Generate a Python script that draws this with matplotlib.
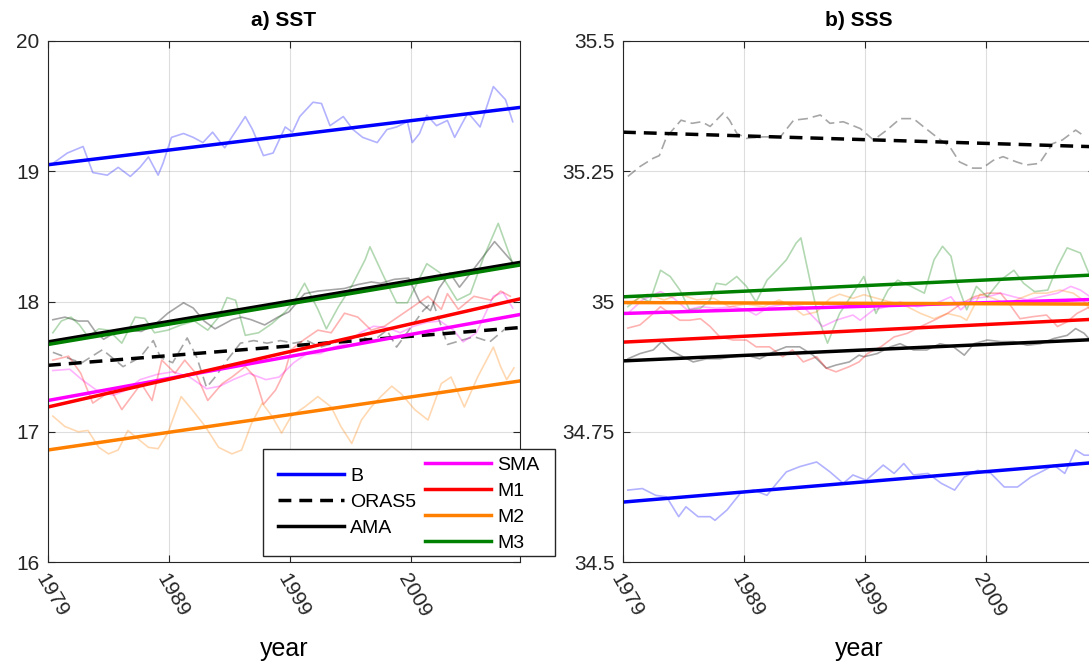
import numpy as np
import matplotlib
matplotlib.use('Agg')
import matplotlib.pyplot as plt
from matplotlib.patches import Rectangle

plt.rcParams['font.family'] = ['Liberation Sans', 'DejaVu Sans']

# ---- a) SST : raw (smoothed) series ----
sst_b_yr = [1979.4, 1980.6, 1981.9, 1982.7, 1983.9, 1984.8, 1985.8, 1986.6, 1987.3, 1988.1, 1988.5,
            1989.2, 1990.2, 1991.0, 1991.8, 1992.6, 1993.6, 1994.6, 1995.3, 1995.9, 1996.8, 1997.6,
            1998.6, 1999.2, 1999.8, 2000.9, 2001.6, 2002.3, 2003.4, 2004.2, 2005.0, 2006.2, 2007.0,
            2007.8, 2008.7, 2009.1, 2009.7, 2010.3, 2011.1, 2012.0, 2012.6, 2013.7, 2014.7, 2015.8,
            2016.8, 2017.4]
sst_b = [19.06, 19.14, 19.19, 18.99, 18.97, 19.03, 18.96, 19.03, 19.11, 18.97, 19.06,
         19.26, 19.29, 19.26, 19.22, 19.30, 19.18, 19.32, 19.42, 19.32, 19.12, 19.14,
         19.34, 19.30, 19.42, 19.53, 19.52, 19.35, 19.42, 19.32, 19.26, 19.22, 19.32,
         19.34, 19.38, 19.22, 19.29, 19.43, 19.35, 19.39, 19.26, 19.45, 19.34, 19.65,
         19.55, 19.38]

sst_oras_yr = [1979.4, 1981.1, 1981.8, 1983.5, 1985.2, 1986.6, 1987.7, 1988.3, 1989.3, 1990.5,
               1991.3, 1992.1, 1992.9, 1993.8, 1994.9, 1996.0, 1997.1, 1998.2, 1999.3, 2000.4,
               2001.5, 2002.6, 2003.7, 2004.8, 2005.9, 2007.0, 2007.8, 2010.0, 2010.8, 2012.0,
               2013.1, 2014.2, 2015.5, 2016.9]
sst_oras = [17.61, 17.55, 17.53, 17.63, 17.50, 17.57, 17.70, 17.57, 17.53, 17.72,
            17.57, 17.34, 17.43, 17.55, 17.68, 17.70, 17.68, 17.70, 17.68, 17.70,
            17.65, 17.68, 17.72, 17.73, 17.70, 17.78, 17.65, 17.93, 18.00, 17.67,
            17.70, 17.73, 17.69, 17.80]

sst_ama_yr = [1979.4, 1980.4, 1981.5, 1982.3, 1982.9, 1983.6, 1984.5, 1985.6, 1986.7, 1987.8,
              1988.9, 1990.2, 1991.0, 1991.9, 1992.8, 1994.2, 1995.0, 1995.8, 1996.9, 1998.0,
              1998.9, 2000.2, 2001.3, 2002.4, 2003.5, 2004.6, 2005.7, 2006.5, 2007.6, 2008.8,
              2009.7, 2010.6, 2011.3, 2012.2, 2013.0, 2014.1, 2015.9, 2017.4]
sst_ama = [17.86, 17.88, 17.85, 17.85, 17.77, 17.71, 17.76, 17.78, 17.77, 17.82,
           17.91, 17.99, 17.95, 17.85, 17.79, 17.86, 17.88, 17.86, 17.82, 17.88,
           17.92, 18.06, 18.08, 18.09, 18.10, 18.13, 18.15, 18.14, 18.17, 18.18,
           18.00, 17.93, 18.10, 18.22, 18.11, 18.24, 18.46, 18.30]

sst_sma_yr = [1979.4, 1980.8, 1981.8, 1983.0, 1984.4, 1985.5, 1986.6, 1988.0, 1989.3, 1990.7,
              1992.1, 1993.2, 1994.3, 1995.6, 1997.0, 1998.1, 1999.3, 2000.4, 2001.5, 2002.6,
              2003.7, 2004.8, 2005.9, 2007.0, 2008.1, 2009.2, 2010.3, 2011.4, 2012.5, 2013.3,
              2014.4, 2015.8, 2016.6, 2017.4]
sst_sma = [17.47, 17.48, 17.40, 17.32, 17.28, 17.32, 17.40, 17.44, 17.46, 17.42,
           17.33, 17.35, 17.40, 17.45, 17.40, 17.42, 17.53, 17.60, 17.60, 17.65,
           17.68, 17.76, 17.81, 17.80, 17.76, 17.81, 17.84, 17.85, 17.78, 17.69,
           17.76, 18.04, 18.07, 17.95]

sst_m1_yr = [1979.4, 1980.7, 1981.7, 1982.7, 1983.5, 1984.2, 1985.1, 1985.9, 1986.7, 1987.6,
             1988.4, 1989.5, 1990.3, 1991.2, 1992.2, 1993.4, 1994.2, 1995.3, 1996.1, 1996.8,
             1997.8, 1998.6, 1999.1, 2000.2, 2001.3, 2002.4, 2003.5, 2004.6, 2005.7, 2006.8,
             2007.9, 2009.0, 2010.4, 2011.5, 2012.0, 2012.9, 2014.2, 2015.6, 2016.4, 2017.2]
sst_m1 = [17.55, 17.58, 17.45, 17.22, 17.27, 17.32, 17.17, 17.27, 17.37, 17.24,
          17.55, 17.45, 17.55, 17.45, 17.24, 17.37, 17.42, 17.50, 17.42, 17.21,
          17.32, 17.47, 17.63, 17.71, 17.78, 17.76, 17.91, 17.88, 17.78, 17.81,
          17.88, 17.95, 18.04, 17.94, 18.06, 17.94, 18.04, 18.01, 18.08, 18.04]

sst_m2_yr = [1979.4, 1980.4, 1981.5, 1982.3, 1983.2, 1984.0, 1984.8, 1985.6, 1986.5, 1987.3,
             1988.1, 1988.9, 1990.0, 1990.9, 1992.0, 1993.1, 1994.2, 1995.0, 1995.8, 1996.7,
             1997.5, 1998.3, 1999.1, 2000.2, 2001.3, 2002.4, 2003.2, 2004.1, 2004.9, 2005.7,
             2006.5, 2007.4, 2008.2, 2009.3, 2010.4, 2011.5, 2012.3, 2013.4, 2014.5, 2015.8,
             2016.4, 2016.9, 2017.5]
sst_m2 = [17.12, 17.04, 17.00, 17.01, 16.88, 16.83, 16.86, 17.01, 16.94, 16.88,
          16.87, 16.99, 17.27, 17.17, 17.04, 16.88, 16.83, 16.86, 17.06, 17.22,
          17.12, 16.99, 17.12, 17.19, 17.27, 17.19, 17.04, 16.91, 17.09, 17.19,
          17.27, 17.35, 17.29, 17.17, 17.09, 17.37, 17.42, 17.19, 17.42, 17.65,
          17.50, 17.40, 17.49]

sst_m3_yr = [1979.4, 1980.1, 1980.9, 1981.6, 1982.3, 1983.2, 1984.0, 1985.1, 1986.2, 1987.0,
             1987.8, 1988.9, 1990.0, 1991.1, 1992.2, 1993.1, 1993.8, 1994.5, 1995.3, 1996.4,
             1997.5, 1998.6, 1999.4, 2000.2, 2001.3, 2002.0, 2003.0, 2004.1, 2005.2, 2005.6,
             2006.7, 2007.8, 2008.7, 2010.3, 2011.4, 2012.8, 2013.9, 2015.0, 2016.2, 2017.4]
sst_m3 = [17.76, 17.85, 17.88, 17.82, 17.73, 17.79, 17.78, 17.68, 17.88, 17.87,
          17.76, 17.78, 17.82, 17.85, 17.78, 17.88, 18.03, 18.01, 17.74, 17.76,
          17.83, 17.92, 18.01, 18.14, 17.94, 17.79, 17.96, 18.12, 18.32, 18.42,
          18.20, 17.99, 17.99, 18.29, 18.22, 18.01, 18.06, 18.34, 18.60, 18.29]

# ---- b) SSS : raw (smoothed) series ----
sss_b_yr = [1979.4, 1980.6, 1981.7, 1982.6, 1983.6, 1984.2, 1985.2, 1986.2, 1986.6, 1987.6,
            1988.7, 1989.8, 1990.9, 1991.7, 1992.5, 1993.6, 1995.0, 1996.1, 1997.2, 1998.0,
            1999.1, 2000.5, 2001.4, 2002.2, 2003.0, 2004.2, 2005.3, 2006.4, 2007.2, 2008.3,
            2009.4, 2010.5, 2011.6, 2012.7, 2013.8, 2014.6, 2015.5, 2016.4, 2017.1, 2017.6]
sss_b = [34.638, 34.641, 34.628, 34.625, 34.587, 34.606, 34.587, 34.587, 34.580, 34.600,
         34.632, 34.638, 34.628, 34.651, 34.673, 34.683, 34.692, 34.673, 34.651, 34.667,
         34.657, 34.686, 34.670, 34.689, 34.667, 34.670, 34.651, 34.638, 34.663, 34.676,
         34.670, 34.644, 34.644, 34.663, 34.676, 34.686, 34.670, 34.715, 34.705, 34.705]

sss_oras_yr = [1979.4, 1980.4, 1981.5, 1982.0, 1982.6, 1983.8, 1984.7, 1985.5, 1986.2, 1987.3,
               1987.8, 1988.4, 1989.2, 1990.6, 1992.0, 1993.1, 1994.2, 1995.3, 1996.1, 1997.2,
               1998.6, 1999.7, 2000.8, 2001.9, 2003.0, 2003.8, 2004.9, 2006.0, 2006.8, 2007.9,
               2008.7, 2009.6, 2010.4, 2011.5, 2012.3, 2013.4, 2014.5, 2015.3, 2016.4, 2017.2]
sss_oras = [35.240, 35.259, 35.275, 35.280, 35.316, 35.348, 35.342, 35.345, 35.336, 35.362,
            35.348, 35.323, 35.313, 35.316, 35.316, 35.348, 35.351, 35.358, 35.342, 35.345,
            35.332, 35.310, 35.329, 35.351, 35.351, 35.336, 35.316, 35.297, 35.268, 35.256,
            35.256, 35.271, 35.278, 35.268, 35.262, 35.265, 35.303, 35.310, 35.329, 35.316]

sss_ama_yr = [1979.4, 1980.4, 1981.5, 1982.2, 1982.9, 1983.7, 1984.8, 1985.9, 1987.0, 1988.1,
              1989.2, 1990.3, 1991.4, 1992.5, 1993.6, 1994.7, 1995.8, 1996.6, 1997.7, 1998.5,
              1998.9, 2000.0, 2001.1, 2001.9, 2003.0, 2004.1, 2005.2, 2006.3, 2007.2, 2008.0,
              2009.1, 2010.2, 2011.3, 2012.4, 2013.5, 2014.6, 2015.7, 2016.4, 2017.1, 2017.6]
sss_ama = [34.890, 34.900, 34.907, 34.923, 34.907, 34.897, 34.884, 34.890, 34.890, 34.894,
           34.897, 34.890, 34.903, 34.913, 34.913, 34.897, 34.872, 34.878, 34.884, 34.897,
           34.894, 34.900, 34.913, 34.919, 34.907, 34.907, 34.919, 34.913, 34.897, 34.919,
           34.926, 34.923, 34.923, 34.916, 34.919, 34.929, 34.935, 34.948, 34.939, 34.926]

sss_sma_yr = [1979.4, 1980.6, 1982.1, 1983.2, 1984.3, 1985.4, 1986.7, 1988.1, 1989.2, 1990.0,
              1991.1, 1992.5, 1993.9, 1994.7, 1995.5, 1996.6, 1998.0, 1998.6, 1999.7, 2000.8,
              2001.9, 2003.3, 2004.7, 2006.1, 2006.9, 2008.0, 2009.1, 2010.2, 2011.3, 2012.4,
              2013.5, 2014.9, 2016.0, 2016.8, 2017.6]
sss_sma = [34.977, 35.003, 35.019, 35.006, 34.984, 34.990, 34.987, 34.990, 34.984, 34.974,
           34.990, 34.995, 34.990, 34.971, 34.952, 34.964, 34.974, 34.964, 34.984, 34.990,
           34.999, 34.990, 34.995, 35.009, 34.984, 35.006, 35.009, 35.016, 35.009, 35.003,
           35.009, 35.016, 35.029, 35.022, 35.009]

sss_m1_yr = [1979.4, 1980.4, 1981.2, 1982.1, 1982.9, 1983.7, 1984.5, 1985.4, 1986.2, 1987.0,
             1988.1, 1989.2, 1990.0, 1991.1, 1992.2, 1993.0, 1993.9, 1995.0, 1995.8, 1996.6,
             1997.7, 1998.5, 1999.2, 2000.3, 2001.4, 2002.5, 2003.6, 2004.7, 2005.8, 2006.9,
             2008.0, 2009.1, 2010.2, 2011.0, 2011.8, 2012.9, 2014.0, 2014.9, 2015.7, 2016.5,
             2017.6]
sss_m1 = [34.949, 34.955, 34.971, 34.990, 34.977, 34.964, 34.964, 34.967, 34.952, 34.932,
          34.926, 34.926, 34.913, 34.913, 34.894, 34.907, 34.884, 34.894, 34.872, 34.865,
          34.875, 34.884, 34.900, 34.913, 34.932, 34.939, 34.952, 34.964, 34.977, 34.995,
          35.009, 35.016, 35.016, 34.993, 34.967, 34.971, 34.974, 34.952, 34.961, 34.977,
          34.990]

sss_m2_yr = [1979.4, 1981.0, 1982.4, 1983.7, 1985.1, 1986.5, 1987.8, 1989.2, 1990.6, 1991.9,
             1993.0, 1993.9, 1995.0, 1996.1, 1996.9, 1998.0, 1998.9, 2000.0, 2001.1, 2002.5,
             2003.6, 2004.7, 2005.8, 2006.9, 2007.4, 2008.5, 2009.6, 2010.7, 2011.8, 2012.9,
             2014.0, 2015.1, 2016.2, 2017.0, 2017.6]
sss_m2 = [34.995, 35.014, 35.003, 35.014, 35.003, 35.006, 34.990, 34.995, 34.990, 35.003,
          34.990, 34.974, 34.980, 35.006, 35.014, 35.006, 35.013, 35.006, 34.999, 34.990,
          34.977, 34.967, 34.977, 34.971, 34.964, 35.014, 35.006, 34.995, 35.006, 35.016,
          35.016, 35.022, 35.016, 35.003, 34.984]

sss_m3_yr = [1979.4, 1980.4, 1981.2, 1982.1, 1982.9, 1983.7, 1984.5, 1985.4, 1986.2, 1986.7,
             1987.5, 1988.4, 1989.2, 1990.0, 1990.9, 1991.7, 1992.5, 1993.3, 1993.7, 1994.5,
             1995.2, 1995.9, 1996.9, 1998.0, 1998.9, 1999.9, 2000.9, 2001.7, 2002.8, 2003.9,
             2004.7, 2005.4, 2006.1, 2006.6, 2007.4, 2008.2, 2009.1, 2010.2, 2011.3, 2012.1,
             2013.0, 2014.1, 2014.9, 2015.7, 2016.8, 2017.6]
sss_m3 = [34.990, 35.009, 34.999, 35.060, 35.048, 35.022, 34.984, 34.987, 35.003, 35.035,
          35.032, 35.048, 35.029, 34.999, 35.041, 35.060, 35.080, 35.112, 35.122, 35.035,
          34.964, 34.920, 34.977, 35.016, 35.048, 34.977, 35.022, 35.041, 35.029, 35.016,
          35.080, 35.106, 35.087, 35.035, 34.984, 35.029, 35.009, 35.041, 35.060, 35.035,
          35.019, 35.022, 35.067, 35.103, 35.093, 35.048]

# ---- linear trends (start/end values at 1979 and 2018) ----
trend_yr = [1979, 2018]
sst_trend = {'B': [19.05, 19.49], 'ORAS5': [17.51, 17.80], 'AMA': [17.69, 18.30],
             'SMA': [17.24, 17.90], 'M1': [17.19, 18.02], 'M2': [16.86, 17.39],
             'M3': [17.67, 18.28]}
sss_trend = {'B': [34.615, 34.691], 'ORAS5': [35.325, 35.297], 'AMA': [34.886, 34.927],
             'SMA': [34.977, 35.004], 'M1': [34.922, 34.966], 'M2': [34.998, 34.995],
             'M3': [35.009, 35.051]}

names = ['B', 'ORAS5', 'AMA', 'SMA', 'M1', 'M2', 'M3']
colors = {'B': (0, 0, 1), 'ORAS5': (0, 0, 0), 'AMA': (0, 0, 0), 'SMA': (1, 0, 1),
          'M1': (1, 0, 0), 'M2': (1, 0.5, 0), 'M3': (0, 0.5, 0)}

sst_raw = {'B': (sst_b_yr, sst_b), 'ORAS5': (sst_oras_yr, sst_oras), 'AMA': (sst_ama_yr, sst_ama),
           'SMA': (sst_sma_yr, sst_sma), 'M1': (sst_m1_yr, sst_m1), 'M2': (sst_m2_yr, sst_m2),
           'M3': (sst_m3_yr, sst_m3)}
sss_raw = {'B': (sss_b_yr, sss_b), 'ORAS5': (sss_oras_yr, sss_oras), 'AMA': (sss_ama_yr, sss_ama),
           'SMA': (sss_sma_yr, sss_sma), 'M1': (sss_m1_yr, sss_m1), 'M2': (sss_m2_yr, sss_m2),
           'M3': (sss_m3_yr, sss_m3)}

xticks = [1979, 1989, 1999, 2009]
sst_yticks = [16, 17, 18, 19, 20]
sss_yticks = [34.5, 34.75, 35, 35.25, 35.5]
sss_ylabels = ['34.5', '34.75', '35', '35.25', '35.5']

W, H = 1089, 664
fig = plt.figure(figsize=(W / 100, H / 100), dpi=100)
ax1 = fig.add_axes([48 / W, 1 - 562 / H, 472 / W, 521 / H])
ax2 = fig.add_axes([623 / W, 1 - 562 / H, 472 / W, 521 / H])

handles = {}
for ax, raw, trend, title in [(ax1, sst_raw, sst_trend, 'a) SST'), (ax2, sss_raw, sss_trend, 'b) SSS')]:
    for nm in names:
        ls_raw = (0, (6, 3)) if nm == 'ORAS5' else '-'
        a = 0.35 if nm in ('ORAS5', 'AMA') else 0.3
        ax.plot(raw[nm][0], raw[nm][1], color=colors[nm], alpha=a, lw=1.2, ls=ls_raw)
    for nm in names:
        ls_tr = (0, (3.7, 2.3)) if nm == 'ORAS5' else '-'
        h, = ax.plot(trend_yr, trend[nm], color=colors[nm], lw=2.5, ls=ls_tr)
        handles[nm] = h
    ax.set_xlim(1979, 2018)
    ax.set_xticks(xticks)
    ax.set_xticklabels([str(t) for t in xticks], rotation=-60, ha='left', va='top',
                       rotation_mode='anchor', fontsize=15)
    ax.grid(True, color=(0.15, 0.15, 0.15), alpha=0.15, lw=0.8)
    ax.tick_params(direction='in', top=True, right=True, length=5, width=0.8,
                   labelsize=15, colors='#262626', pad=6)
    for sp in ax.spines.values():
        sp.set_color('#262626')
        sp.set_linewidth(0.8)
    ax.set_title(title, fontsize=15, fontweight='bold', pad=11)
    ax.set_xlabel('year', fontsize=18, labelpad=12)

ax1.set_ylim(16, 20)
ax1.set_yticks(sst_yticks)
ax2.set_ylim(34.5, 35.5)
ax2.set_yticks(sss_yticks)
ax2.set_yticklabels(sss_ylabels)

# legend box in MATLAB style: two columns, left one shifted half a row
box = Rectangle((263 / W, 1 - 556 / H), 292 / W, 107 / H, transform=fig.transFigure,
                facecolor='white', edgecolor='#262626', lw=1, clip_on=False, zorder=4)
ax1.add_artist(box)
leg1 = ax1.legend([handles[n] for n in ['B', 'ORAS5', 'AMA']], ['B', 'ORAS5', 'AMA'],
                  loc='upper left', bbox_to_anchor=(278 / W, 1 - 467 / H),
                  bbox_transform=fig.transFigure, frameon=False, fontsize=14,
                  handlelength=3.4, handletextpad=0.3, labelspacing=0.44, borderpad=0,
                  borderaxespad=0)
ax1.add_artist(leg1)
leg2 = ax1.legend([handles[n] for n in ['SMA', 'M1', 'M2', 'M3']], ['SMA', 'M1', 'M2', 'M3'],
                  loc='upper left', bbox_to_anchor=(425 / W, 1 - 456 / H),
                  bbox_transform=fig.transFigure, frameon=False, fontsize=14,
                  handlelength=3.4, handletextpad=0.3, labelspacing=0.44, borderpad=0,
                  borderaxespad=0)

fig.savefig('out.png', dpi=100)
